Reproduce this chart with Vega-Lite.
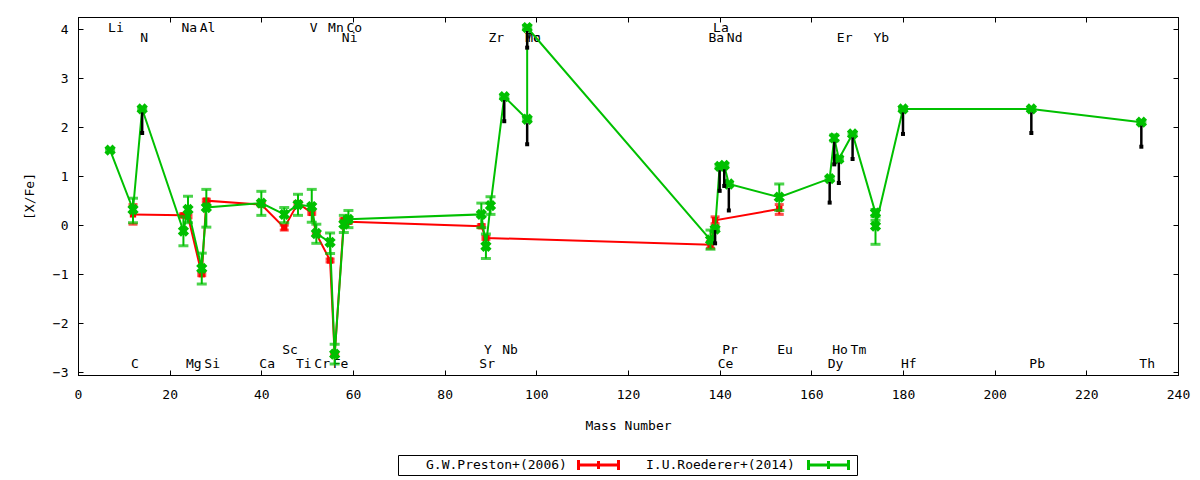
{
  "$schema": "https://vega.github.io/schema/vega-lite/v6.json",
  "width": 1100,
  "height": 358,
  "autosize": {"type": "none"},
  "padding": {"left": 78, "top": 17, "right": 22, "bottom": 105},
  "background": "white",
  "config": {
    "font": "DejaVu Sans Mono",
    "view": {"stroke": "black", "strokeWidth": 1},
    "axis": {
      "domainColor": "black",
      "tickColor": "black",
      "tickSize": -5,
      "tickWidth": 1,
      "grid": false,
      "labelFlush": false,
      "labelFont": "DejaVu Sans Mono",
      "labelFontSize": 13,
      "labelColor": "black",
      "titleFont": "DejaVu Sans Mono",
      "titleFontSize": 13,
      "titleFontWeight": "normal",
      "titleColor": "black"
    }
  },
  "datasets": {
    "pts": [
      {"series": "G.W.Preston+(2006)", "i": 1, "el": "C", "m": 12, "y": 0.22, "lo": 0.02, "hi": 0.42},
      {"series": "G.W.Preston+(2006)", "i": 2, "el": "Na", "m": 23, "y": 0.2, "lo": 0.17, "hi": 0.23},
      {"series": "G.W.Preston+(2006)", "i": 3, "el": "Mg", "m": 24, "y": 0.18, "lo": 0.15, "hi": 0.21},
      {"series": "G.W.Preston+(2006)", "i": 4, "el": "Al", "m": 27, "y": -1.0, "lo": -1.03, "hi": -0.97},
      {"series": "G.W.Preston+(2006)", "i": 5, "el": "Si", "m": 28, "y": 0.5, "lo": 0.47, "hi": 0.53},
      {"series": "G.W.Preston+(2006)", "i": 6, "el": "Ca", "m": 40, "y": 0.42, "lo": 0.39, "hi": 0.45},
      {"series": "G.W.Preston+(2006)", "i": 7, "el": "Sc", "m": 45, "y": -0.05, "lo": -0.1, "hi": 0.0},
      {"series": "G.W.Preston+(2006)", "i": 8, "el": "Ti", "m": 48, "y": 0.45, "lo": 0.42, "hi": 0.48},
      {"series": "G.W.Preston+(2006)", "i": 9, "el": "V", "m": 51, "y": 0.25, "lo": 0.22, "hi": 0.28},
      {"series": "G.W.Preston+(2006)", "i": 10, "el": "Cr", "m": 52, "y": -0.18, "lo": -0.21, "hi": -0.15},
      {"series": "G.W.Preston+(2006)", "i": 11, "el": "Mn", "m": 55, "y": -0.72, "lo": -0.75, "hi": -0.69},
      {"series": "G.W.Preston+(2006)", "i": 12, "el": "Fe", "m": 56, "y": -2.65, "lo": -2.68, "hi": -2.62},
      {"series": "G.W.Preston+(2006)", "i": 13, "el": "Ni", "m": 58, "y": 0.1, "lo": 0.07, "hi": 0.13},
      {"series": "G.W.Preston+(2006)", "i": 14, "el": "Co", "m": 59, "y": 0.07, "lo": 0.04, "hi": 0.1},
      {"series": "G.W.Preston+(2006)", "i": 15, "el": "Sr", "m": 88, "y": -0.02, "lo": -0.05, "hi": 0.01},
      {"series": "G.W.Preston+(2006)", "i": 16, "el": "Y", "m": 89, "y": -0.26, "lo": -0.29, "hi": -0.23},
      {"series": "G.W.Preston+(2006)", "i": 17, "el": "Ba", "m": 138, "y": -0.4, "lo": -0.47, "hi": -0.33},
      {"series": "G.W.Preston+(2006)", "i": 18, "el": "La", "m": 139, "y": 0.1, "lo": 0.03, "hi": 0.17},
      {"series": "G.W.Preston+(2006)", "i": 19, "el": "Eu", "m": 153, "y": 0.33, "lo": 0.22, "hi": 0.42},
      {"series": "I.U.Roederer+(2014)", "i": 1, "el": "Li", "m": 7, "y": 1.53, "lo": 1.5, "hi": 1.56},
      {"series": "I.U.Roederer+(2014)", "i": 2, "el": "C", "m": 12, "y": 0.32, "lo": 0.05, "hi": 0.55},
      {"series": "I.U.Roederer+(2014)", "i": 3, "el": "N", "m": 14, "y": 2.37, "lo": 2.34, "hi": 2.4},
      {"series": "I.U.Roederer+(2014)", "i": 4, "el": "Na", "m": 23, "y": -0.12, "lo": -0.42, "hi": 0.18},
      {"series": "I.U.Roederer+(2014)", "i": 5, "el": "Mg", "m": 24, "y": 0.32, "lo": 0.05, "hi": 0.59},
      {"series": "I.U.Roederer+(2014)", "i": 6, "el": "Al", "m": 27, "y": -0.88, "lo": -1.2, "hi": -0.57},
      {"series": "I.U.Roederer+(2014)", "i": 7, "el": "Si", "m": 28, "y": 0.36, "lo": -0.04, "hi": 0.73},
      {"series": "I.U.Roederer+(2014)", "i": 8, "el": "Ca", "m": 40, "y": 0.45, "lo": 0.2, "hi": 0.69},
      {"series": "I.U.Roederer+(2014)", "i": 9, "el": "Sc", "m": 45, "y": 0.22, "lo": 0.05, "hi": 0.36},
      {"series": "I.U.Roederer+(2014)", "i": 10, "el": "Ti", "m": 48, "y": 0.42, "lo": 0.2, "hi": 0.63},
      {"series": "I.U.Roederer+(2014)", "i": 11, "el": "V", "m": 51, "y": 0.38, "lo": 0.06, "hi": 0.73},
      {"series": "I.U.Roederer+(2014)", "i": 12, "el": "Cr", "m": 52, "y": -0.17, "lo": -0.37, "hi": 0.02},
      {"series": "I.U.Roederer+(2014)", "i": 13, "el": "Mn", "m": 55, "y": -0.35, "lo": -0.58, "hi": -0.16},
      {"series": "I.U.Roederer+(2014)", "i": 14, "el": "Fe", "m": 56, "y": -2.63, "lo": -2.83, "hi": -2.43},
      {"series": "I.U.Roederer+(2014)", "i": 15, "el": "Ni", "m": 58, "y": 0.02, "lo": -0.15, "hi": 0.2},
      {"series": "I.U.Roederer+(2014)", "i": 16, "el": "Co", "m": 59, "y": 0.12, "lo": -0.05, "hi": 0.3},
      {"series": "I.U.Roederer+(2014)", "i": 17, "el": "Sr", "m": 88, "y": 0.22, "lo": -0.05, "hi": 0.45},
      {"series": "I.U.Roederer+(2014)", "i": 18, "el": "Y", "m": 89, "y": -0.43, "lo": -0.68, "hi": -0.18},
      {"series": "I.U.Roederer+(2014)", "i": 19, "el": "Zr", "m": 90, "y": 0.4, "lo": 0.22, "hi": 0.58},
      {"series": "I.U.Roederer+(2014)", "i": 20, "el": "Nb", "m": 93, "y": 2.62, "lo": 2.59, "hi": 2.65},
      {"series": "I.U.Roederer+(2014)", "i": 21, "el": "Mo", "m": 98, "y": 2.16, "lo": 2.13, "hi": 2.19},
      {"series": "I.U.Roederer+(2014)", "i": 22, "el": "Tc", "m": 98, "y": 4.03, "lo": 4.0, "hi": 4.06},
      {"series": "I.U.Roederer+(2014)", "i": 23, "el": "Ba", "m": 138, "y": -0.3, "lo": -0.49, "hi": -0.1},
      {"series": "I.U.Roederer+(2014)", "i": 24, "el": "La", "m": 139, "y": -0.08, "lo": -0.11, "hi": -0.05},
      {"series": "I.U.Roederer+(2014)", "i": 25, "el": "Ce", "m": 140, "y": 1.2, "lo": 1.17, "hi": 1.23},
      {"series": "I.U.Roederer+(2014)", "i": 26, "el": "Pr", "m": 141, "y": 1.22, "lo": 1.19, "hi": 1.25},
      {"series": "I.U.Roederer+(2014)", "i": 27, "el": "Nd", "m": 142, "y": 0.84, "lo": 0.81, "hi": 0.87},
      {"series": "I.U.Roederer+(2014)", "i": 28, "el": "Eu", "m": 153, "y": 0.57, "lo": 0.3, "hi": 0.84},
      {"series": "I.U.Roederer+(2014)", "i": 29, "el": "Dy", "m": 164, "y": 0.95, "lo": 0.92, "hi": 0.98},
      {"series": "I.U.Roederer+(2014)", "i": 30, "el": "Ho", "m": 165, "y": 1.78, "lo": 1.72, "hi": 1.84},
      {"series": "I.U.Roederer+(2014)", "i": 31, "el": "Er", "m": 166, "y": 1.35, "lo": 1.32, "hi": 1.38},
      {"series": "I.U.Roederer+(2014)", "i": 32, "el": "Tm", "m": 169, "y": 1.86, "lo": 1.83, "hi": 1.89},
      {"series": "I.U.Roederer+(2014)", "i": 33, "el": "Yb", "m": 174, "y": 0.25, "lo": 0.18, "hi": 0.32},
      {"series": "I.U.Roederer+(2014)", "i": 34, "el": "Yb", "m": 174, "y": -0.02, "lo": -0.39, "hi": 0.1},
      {"series": "I.U.Roederer+(2014)", "i": 35, "el": "Hf", "m": 180, "y": 2.37, "lo": 2.34, "hi": 2.4},
      {"series": "I.U.Roederer+(2014)", "i": 36, "el": "Pb", "m": 208, "y": 2.37, "lo": 2.34, "hi": 2.4},
      {"series": "I.U.Roederer+(2014)", "i": 37, "el": "Th", "m": 232, "y": 2.1, "lo": 2.07, "hi": 2.13}
    ],
    "lims": [
      {"el": "N", "m": 14, "top": 2.3, "bot": 1.88},
      {"el": "Nb", "m": 93, "top": 2.55, "bot": 2.12},
      {"el": "Mo", "m": 98, "top": 2.08, "bot": 1.65},
      {"el": "Tc", "m": 98, "top": 3.96, "bot": 3.62},
      {"el": "La", "m": 139, "top": -0.1, "bot": -0.37},
      {"el": "Ce", "m": 140, "top": 1.12, "bot": 0.7},
      {"el": "Pr", "m": 141, "top": 1.14, "bot": 0.8},
      {"el": "Nd", "m": 142, "top": 0.76, "bot": 0.3},
      {"el": "Dy", "m": 164, "top": 0.88, "bot": 0.46},
      {"el": "Ho", "m": 165, "top": 1.7, "bot": 1.24},
      {"el": "Er", "m": 166, "top": 1.28, "bot": 0.86},
      {"el": "Tm", "m": 169, "top": 1.79, "bot": 1.35},
      {"el": "Hf", "m": 180, "top": 2.3, "bot": 1.86},
      {"el": "Pb", "m": 208, "top": 2.3, "bot": 1.88},
      {"el": "Th", "m": 232, "top": 2.03, "bot": 1.6}
    ],
    "labels": [
      {"el": "Li", "m": 7, "ly": 4.02},
      {"el": "Na", "m": 23, "ly": 4.02},
      {"el": "Al", "m": 27, "ly": 4.02},
      {"el": "V", "m": 51, "ly": 4.02},
      {"el": "Mn", "m": 55, "ly": 4.02},
      {"el": "Co", "m": 59, "ly": 4.02},
      {"el": "La", "m": 139, "ly": 4.02},
      {"el": "N", "m": 14, "ly": 3.81},
      {"el": "Ni", "m": 58, "ly": 3.81},
      {"el": "Zr", "m": 90, "ly": 3.81},
      {"el": "Mo", "m": 98, "ly": 3.81},
      {"el": "Tc", "m": 98, "ly": 3.81},
      {"el": "Ba", "m": 138, "ly": 3.81},
      {"el": "Nd", "m": 142, "ly": 3.81},
      {"el": "Er", "m": 166, "ly": 3.81},
      {"el": "Yb", "m": 174, "ly": 3.81},
      {"el": "Sc", "m": 45, "ly": -2.55},
      {"el": "Y", "m": 89, "ly": -2.55},
      {"el": "Nb", "m": 93, "ly": -2.55},
      {"el": "Pr", "m": 141, "ly": -2.55},
      {"el": "Eu", "m": 153, "ly": -2.55},
      {"el": "Ho", "m": 165, "ly": -2.55},
      {"el": "Tm", "m": 169, "ly": -2.55},
      {"el": "C", "m": 12, "ly": -2.83},
      {"el": "Mg", "m": 24, "ly": -2.83},
      {"el": "Si", "m": 28, "ly": -2.83},
      {"el": "Ca", "m": 40, "ly": -2.83},
      {"el": "Ti", "m": 48, "ly": -2.83},
      {"el": "Cr", "m": 52, "ly": -2.83},
      {"el": "Fe", "m": 56, "ly": -2.83},
      {"el": "Sr", "m": 88, "ly": -2.83},
      {"el": "Ce", "m": 140, "ly": -2.83},
      {"el": "Dy", "m": 164, "ly": -2.83},
      {"el": "Hf", "m": 180, "ly": -2.83},
      {"el": "Pb", "m": 208, "ly": -2.83},
      {"el": "Th", "m": 232, "ly": -2.83}
    ]
  },
  "layer": [
    {
      "data": {"name": "labels"},
      "mark": {"type": "point", "opacity": 0},
      "encoding": {
        "x": {"field": "m", "type": "quantitative", "title": "Mass Number",
          "scale": {"domain": [0, 240], "nice": false, "zero": false},
          "axis": {"orient": "bottom", "values": [0, 20, 40, 60, 80, 100, 120, 140, 160, 180, 200, 220, 240], "labelPadding": 18, "titlePadding": 18}},
        "y": {"field": "ly", "type": "quantitative", "title": "[X/Fe]",
          "scale": {"domain": [-3.055, 4.245], "nice": false, "zero": false},
          "axis": {"orient": "left", "values": [-3, -2, -1, 0, 1, 2, 3, 4], "labelPadding": 15, "titlePadding": 16}}
      }
    },
    {
      "data": {"name": "labels"},
      "mark": {"type": "text", "align": "left", "baseline": "middle", "dx": -2, "fontSize": 13, "font": "DejaVu Sans Mono", "color": "black"},
      "encoding": {
        "x": {"field": "m", "type": "quantitative",
          "axis": {"orient": "top", "labels": false, "title": null, "values": [0, 20, 40, 60, 80, 100, 120, 140, 160, 180, 200, 220, 240]}},
        "y": {"field": "ly", "type": "quantitative",
          "axis": {"orient": "right", "labels": false, "title": null, "values": [-3, -2, -1, 0, 1, 2, 3, 4]}},
        "text": {"field": "el"}
      }
    },
    {
      "data": {"name": "pts"},
      "transform": [{"filter": "datum.series == 'G.W.Preston+(2006)'"}],
      "layer": [
        {
          "mark": {"type": "rule", "color": "#ff0000", "strokeWidth": 2},
          "encoding": {
            "x": {"field": "m", "type": "quantitative", "axis": null},
            "y": {"field": "lo", "type": "quantitative", "axis": null},
            "y2": {"field": "hi"}
          }
        },
        {
          "mark": {"type": "tick", "orient": "horizontal", "color": "#ff0000", "size": 9, "thickness": 3},
          "encoding": {
            "x": {"field": "m", "type": "quantitative", "axis": null},
            "y": {"field": "lo", "type": "quantitative", "axis": null}
          }
        },
        {
          "mark": {"type": "tick", "orient": "horizontal", "color": "#ff0000", "size": 9, "thickness": 3},
          "encoding": {
            "x": {"field": "m", "type": "quantitative", "axis": null},
            "y": {"field": "hi", "type": "quantitative", "axis": null}
          }
        },
        {
          "mark": {"type": "line", "strokeWidth": 2},
          "encoding": {
            "x": {"field": "m", "type": "quantitative", "axis": null},
            "y": {"field": "y", "type": "quantitative", "axis": null},
            "order": {"field": "i"},
            "color": {"field": "series", "type": "nominal",
              "scale": {"domain": ["G.W.Preston+(2006)", "I.U.Roederer+(2014)"], "range": ["#ff0000", "#00c000"]},
              "legend": {
                "orient": "none", "legendX": 320, "legendY": 438,
                "direction": "horizontal", "title": null,
                "strokeColor": "black", "padding": 2,
                "labelFont": "DejaVu Sans Mono", "labelFontSize": 13, "labelColor": "black", "labelLimit": 400,
                "labelExpr": "(datum.label == 'G.W.Preston+(2006)' ? '\u2800' : '') + datum.label + '\u2800\u2800\u2800\u2800\u2800\u2800'",
                "labelOffset": -204, "symbolOffset": 177,
                "symbolType": "M-1,0H1M-1,-0.25V0.25M1,-0.25V0.25M0,-0.2V0.2",
                "symbolSize": 1600, "symbolStrokeWidth": 3,
                "clipHeight": 16, "columnPadding": 3
              }
            }
          }
        },
        {
          "mark": {"type": "point", "shape": "square", "filled": true, "opacity": 1, "size": 40, "color": "#ff0000"},
          "encoding": {
            "x": {"field": "m", "type": "quantitative", "axis": null},
            "y": {"field": "y", "type": "quantitative", "axis": null}
          }
        }
      ]
    },
    {
      "data": {"name": "pts"},
      "transform": [{"filter": "datum.series == 'I.U.Roederer+(2014)'"}],
      "layer": [
        {
          "mark": {"type": "rule", "color": "#00c000", "strokeWidth": 2},
          "encoding": {
            "x": {"field": "m", "type": "quantitative", "axis": null},
            "y": {"field": "lo", "type": "quantitative", "axis": null},
            "y2": {"field": "hi"}
          }
        },
        {
          "mark": {"type": "tick", "orient": "horizontal", "color": "#00c000", "size": 10, "thickness": 3},
          "encoding": {
            "x": {"field": "m", "type": "quantitative", "axis": null},
            "y": {"field": "lo", "type": "quantitative", "axis": null}
          }
        },
        {
          "mark": {"type": "tick", "orient": "horizontal", "color": "#00c000", "size": 10, "thickness": 3},
          "encoding": {
            "x": {"field": "m", "type": "quantitative", "axis": null},
            "y": {"field": "hi", "type": "quantitative", "axis": null}
          }
        },
        {
          "mark": {"type": "line", "strokeWidth": 2},
          "encoding": {
            "x": {"field": "m", "type": "quantitative", "axis": null},
            "y": {"field": "y", "type": "quantitative", "axis": null},
            "order": {"field": "i"},
            "color": {"field": "series", "type": "nominal"}
          }
        },
        {
          "mark": {"type": "point", "shape": "cross", "angle": 45, "filled": true, "opacity": 1, "size": 130, "color": "#00c000"},
          "encoding": {
            "x": {"field": "m", "type": "quantitative", "axis": null},
            "y": {"field": "y", "type": "quantitative", "axis": null}
          }
        }
      ]
    },
    {
      "data": {"name": "lims"},
      "layer": [
        {
          "mark": {"type": "rule", "color": "black", "strokeWidth": 2.5},
          "encoding": {
            "x": {"field": "m", "type": "quantitative", "axis": null},
            "y": {"field": "top", "type": "quantitative", "axis": null},
            "y2": {"field": "bot"}
          }
        },
        {
          "mark": {"type": "point", "shape": "square", "filled": true, "opacity": 1, "size": 16, "color": "black"},
          "encoding": {
            "x": {"field": "m", "type": "quantitative", "axis": null},
            "y": {"field": "bot", "type": "quantitative", "axis": null}
          }
        }
      ]
    }
  ],
  "resolve": {"axis": {"x": "independent", "y": "independent"}}
}
